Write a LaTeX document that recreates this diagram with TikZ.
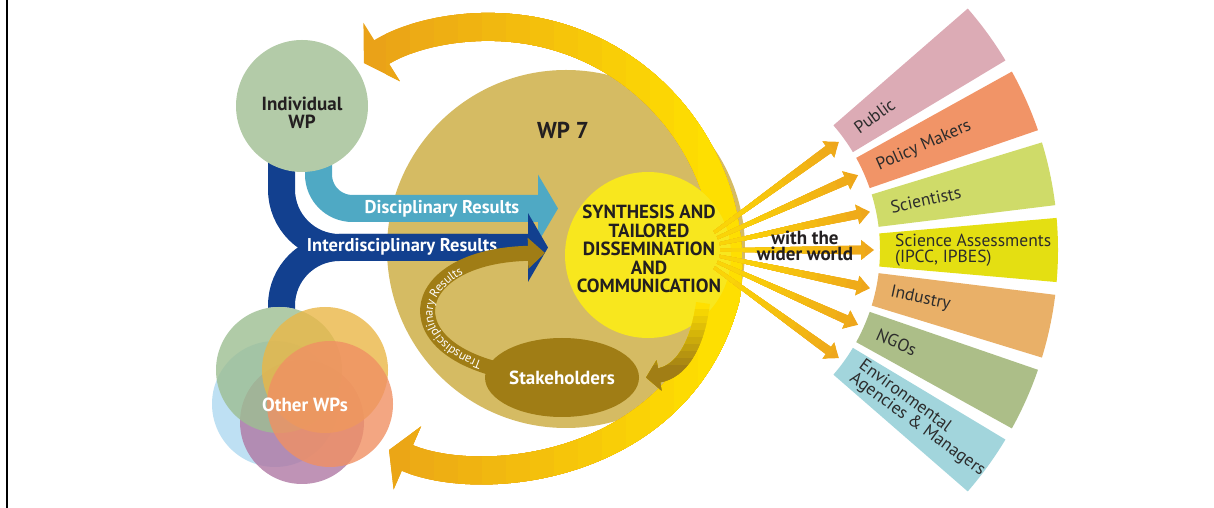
\documentclass[tikz,border=0pt]{standalone}
\usepackage{fontspec}
\setmainfont{PT Sans}
\usepackage{tikz}
\usetikzlibrary{arrows.meta,calc,shapes.geometric,decorations.text}
\definecolor{wpTan}{HTML}{D5BB63}
\definecolor{wpSun}{HTML}{F8E71E}
\definecolor{wpBrown}{HTML}{A07D15}
\definecolor{wpDark}{HTML}{231F20}
\definecolor{discBlue}{HTML}{4FA9C4}
\definecolor{interBlue}{HTML}{12408F}
\definecolor{indGreen}{HTML}{B3CBA8}
\definecolor{arcOrange}{HTML}{EAA218}
\definecolor{arcYellow}{HTML}{FFE000}
\definecolor{rayYellow}{HTML}{FFE600}
\definecolor{rayOrange}{HTML}{EEA61B}
\definecolor{owGreen}{HTML}{9DBE92}
\definecolor{owYellow}{HTML}{EAB747}
\definecolor{owBlue}{HTML}{AED9F0}
\definecolor{owSalmon}{HTML}{F09063}
\definecolor{owPurple}{HTML}{AF78A4}
\definecolor{secPub}{HTML}{DCABB5}
\definecolor{secPol}{HTML}{F19467}
\definecolor{secSci}{HTML}{CFDB69}
\definecolor{secAss}{HTML}{E4DF12}
\definecolor{secInd}{HTML}{E9B068}
\definecolor{secNgo}{HTML}{ACBE88}
\definecolor{secEnv}{HTML}{A2D5DC}
\definecolor{secText}{HTML}{2C2C2C}
\tikzset{
  ttl/.style     = {text=wpDark, align=center, inner sep=0pt,
                    font=\bfseries\fontsize{19}{18.5}\selectfont},
  wtxt/.style    = {text=white, inner sep=0pt,
                    font=\bfseries\fontsize{19}{19}\selectfont},
  band/.style    = {line width=27pt},
  arcband/.style = {line width=28pt,
                    {Triangle[length=20pt, width=68pt]}-{Triangle[length=21pt, width=68pt]}},
  owc/.style     = {fill=#1, fill opacity=0.8},
  sect/.style    = {text=secText, align=left, inner sep=0pt,
                    font=\fontsize{17.5}{15.5}\selectfont},
}

\begin{document}
\begin{tikzpicture}[x=1pt, y=1pt]
  \useasboundingbox (0,0) rectangle (1214,508);
  \draw[line width=2.5pt] (7,0) -- (7,508);

  \coordinate (indC)     at (302,402);
  \coordinate (othC)     at (305,103);
  \coordinate (skC)      at (562,130.5);
  \coordinate (discTip)  at (558,299.5);
  \coordinate (interTip) at (548,260.5);
  \coordinate (transTip) at (545,255);
  \coordinate (arcC)     at (490,243);
  \coordinate (arcJ)     at ($(arcC)+(-8:238)$);
  \coordinate (botTip)   at (389,58);
  \coordinate (skFrom)   at (703,205);
  \coordinate (fan)      at (690,258);

  % WP 7 disc
  \node[circle, fill=wpTan, minimum size=358pt, inner sep=0pt] (wp) at (566,259) {};
  \node[ttl, font=\bfseries\fontsize{23}{24}\selectfont] (wptxt) at (563,378) {WP 7};

  % results flowing in
  \draw[band, discBlue, rounded corners=34pt, -{Triangle[length=20pt, width=67pt]}]
    ([xshift=16.5pt]indC) |- (discTip);
  \draw[band, interBlue, rounded corners=58pt, -{Triangle[length=20pt, width=68pt]}]
    ([xshift=-20.5pt]indC) |- (interTip);
  \draw[band, interBlue, rounded corners=58pt]
    ([xshift=-23.5pt]othC) |- ([xshift=-60pt]interTip);
  \node[wtxt, font=\bfseries\fontsize{18.5}{19}\selectfont] (discTxt) at (442,299) {Disciplinary Results};
  \node[wtxt, font=\bfseries\fontsize{18.5}{19}\selectfont] (interTxt) at (402,261) {Interdisciplinary Results};

  \draw[line width=15pt, wpBrown, -{Triangle[length=17pt, width=30pt]}]
    (skC) .. controls (385,135) and (392,252) .. (transTip);
  \node[ellipse, fill=wpBrown, minimum width=154pt, minimum height=79pt, wtxt] (sk) at (skC) {Stakeholders};
  \path[decorate, decoration={text along path, raise=-3pt,
        text align={align=left, left indent=82pt},
        text={|\color{white}\fontsize{12.5}{12.5}\selectfont|Transdisciplinary Results}}]
    (skC) .. controls (385,135) and (392,252) .. (transTip);

  % work packages
  \node[circle, fill=indGreen, minimum size=132pt, inner sep=0pt] (ind) at (indC) {};
  \node[ttl] (indTxt) at (302,395) {Individual\\WP};
  \foreach \p in {(279,138),(325,138),(275,104),(330,104),(302,86)}
    \fill[white] \p circle[radius=63];
  \fill[owc=owBlue] (275,104) circle[radius=63];
  \fill[owc=owPurple] (302,86) circle[radius=62];
  \fill[owc=owGreen] (279,138) circle[radius=63];
  \fill[owc=owYellow] (325,138) circle[radius=63];
  \fill[owc=owSalmon] (330,104) circle[radius=63];
  \node[wtxt] (oth) at (othC) {Other WPs};

  % feedback loop round WP 7, orange at both heads
  \foreach \i in {0,...,14} {
    \pgfmathtruncatemacro\mix{100-7*\i}
    \begin{scope}
      \clip ({362+24*\i},0) rectangle (1214,508);
      \draw[arcband, arcOrange!\mix!arcYellow]
        (botTip) .. controls (481,18) and (680,38) .. (arcJ)
        arc[start angle=-8, end angle=122, radius=238];
    \end{scope}
  }

  \node[circle, fill=wpSun, minimum size=166pt, inner sep=0pt] (sun) at (648,253) {};
  \foreach \i in {0,...,9} {
    \pgfmathtruncatemacro\mix{11*\i}
    \begin{scope}
      \clip (600,{205-7*\i}) rectangle (760,100);
      \draw[line width=14pt, wpBrown!\mix!arcYellow, -{Triangle[length=13pt, width=30pt]}]
        (skFrom) .. controls (697,160) and (680,136) .. ([xshift=7pt]sk.east);
    \end{scope}
  }

  % rays, yellow near the sun
  \foreach \i in {0,...,9} {
    \pgfmathtruncatemacro\mix{100-8*\i}
    \begin{scope}
      \clip (fan) circle[radius={190-15*\i}];
      \foreach \a in {36,24,...,-36}
        \fill[rayOrange!\mix!rayYellow, shift={(fan)}, rotate=\a]
          (30,-1.5) -- (171,-4.5) -- (171,-10) -- (184,0) -- (171,10) -- (171,4.5) -- (30,1.5) -- cycle;
    \end{scope}
  }
  \node[ttl] (syn) at (649,259)
    {SYNTHESIS AND\\TAILORED\\DISSEMINATION\\AND\\COMMUNICATION};
  \node[ttl, font=\bfseries\fontsize{19}{16.5}\selectfont] (wider) at (805,262) {with the\\wider world};

  % audiences
  \foreach \a/\c/\lab in {36/secPub/Public, 24/secPol/Policy Makers, 12/secSci/Scientists,
      0/secAss/{Science Assessments\\(IPCC, IPBES)}, -12/secInd/Industry, -24/secNgo/NGOs,
      -36/secEnv/{Environmental\\Agencies \& Managers}} {
    \fill[\c] ($(fan)+({\a-5}:190)$) arc[start angle=\a-5, end angle=\a+5, radius=190]
      -- ($(fan)+({\a+5}:368)$) arc[start angle=\a+5, end angle=\a-5, radius=368] -- cycle;
    \node[sect, rotate=\a, anchor=west] (sec\a) at ($(fan)+(\a:205)$) {\lab};
  }
\end{tikzpicture}
\end{document}
